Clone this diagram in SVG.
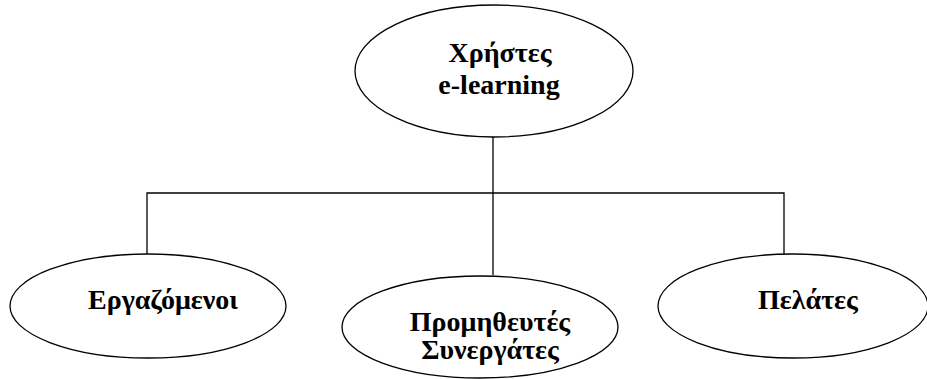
<svg xmlns="http://www.w3.org/2000/svg" width="927" height="379" viewBox="0 0 927 379">
  <style>
    .node ellipse { fill: #ffffff; stroke: #000000; stroke-width: 1.3; }
    .label { fill: #000000; font-family: "Liberation Serif", "Times New Roman", serif; font-weight: 700; font-size: 28px; text-anchor: middle; }
    #connectors path { fill: none; stroke: #000000; stroke-width: 1.3; }
  </style>
  <rect width="927" height="379" fill="#ffffff"/>

  <!-- tree connectors from the root to the three groups -->
  <g id="connectors">
    <path d="M493,137 V193"/>
    <path d="M147,254 V193 H784 V254"/>
    <path d="M493,193 V275"/>
  </g>

  <g id="root" class="node">
    <ellipse cx="494" cy="71" rx="139" ry="66"/>
    <text class="label" x="500" y="62">Χρήστες</text>
    <text class="label" x="499" y="94">e-learning</text>
  </g>

  <g id="employees" class="node">
    <ellipse cx="148" cy="306" rx="138" ry="52"/>
    <text class="label" x="163" y="309">Εργαζόμενοι</text>
  </g>

  <g id="suppliers" class="node">
    <ellipse cx="480" cy="327" rx="138" ry="51"/>
    <text class="label" x="490" y="331">Προμηθευτές</text>
    <text class="label" x="490" y="359">Συνεργάτες</text>
  </g>

  <g id="customers" class="node">
    <ellipse cx="793" cy="306" rx="135" ry="52"/>
    <text class="label" x="808" y="309">Πελάτες</text>
  </g>
</svg>
